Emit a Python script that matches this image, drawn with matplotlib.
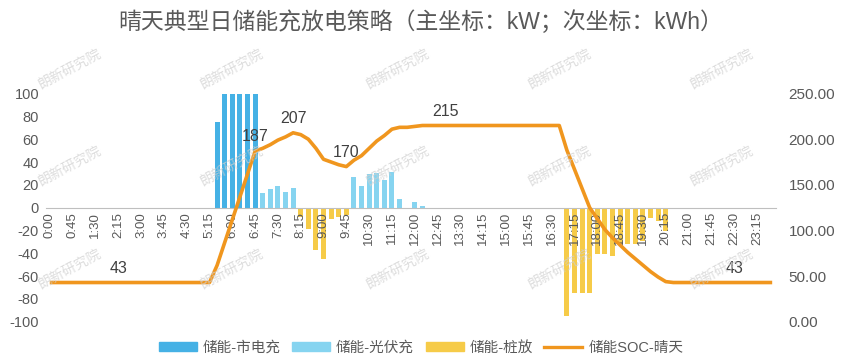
import matplotlib.pyplot as plt
from matplotlib.patches import Patch
from matplotlib.lines import Line2D

plt.rcParams['font.family'] = ['Liberation Sans', 'Noto Sans CJK SC', 'DejaVu Sans']
plt.rcParams['axes.unicode_minus'] = False

# 96 quarter-hour slots
times = [f"{h}:{m:02d}" for h in range(24) for m in (0, 15, 30, 45)]

# kW, 12 slots per row (3 hours)
grid_charge = [
    0, 0, 0, 0, 0, 0, 0, 0, 0, 0, 0, 0,
    0, 0, 0, 0, 0, 0, 0, 0, 0, 0, 75, 100,
    100, 100, 100, 100, 0, 0, 0, 0, 0, 0, 0, 0,
    0, 0, 0, 0, 0, 0, 0, 0, 0, 0, 0, 0,
    0, 0, 0, 0, 0, 0, 0, 0, 0, 0, 0, 0,
    0, 0, 0, 0, 0, 0, 0, 0, 0, 0, 0, 0,
    0, 0, 0, 0, 0, 0, 0, 0, 0, 0, 0, 0,
    0, 0, 0, 0, 0, 0, 0, 0, 0, 0, 0, 0,
]
pv_charge = [
    0, 0, 0, 0, 0, 0, 0, 0, 0, 0, 0, 0,
    0, 0, 0, 0, 0, 0, 0, 0, 0, 0, 0, 0,
    0, 0, 0, 0, 12.6, 16.4, 19, 13.5, 17, 0, 0, 0,
    0, 0, 0, 0, 27, 19, 29.6, 30, 24, 31.6, 7.4, 0,
    4.7, 1.5, 0, 0, 0, 0, 0, 0, 0, 0, 0, 0,
    0, 0, 0, 0, 0, 0, 0, 0, 0, 0, 0, 0,
    0, 0, 0, 0, 0, 0, 0, 0, 0, 0, 0, 0,
    0, 0, 0, 0, 0, 0, 0, 0, 0, 0, 0, 0,
]
pile_discharge = [
    0, 0, 0, 0, 0, 0, 0, 0, 0, 0, 0, 0,
    0, 0, 0, 0, 0, 0, 0, 0, 0, 0, 0, 0,
    0, 0, 0, 0, 0, 0, 0, 0, 0, -8, -19, -37,
    -45, -10, -8, -6.4, 0, 0, 0, 0, 0, 0, 0, 0,
    0, 0, 0, 0, 0, 0, 0, 0, 0, 0, 0, 0,
    0, 0, 0, 0, 0, 0, 0, 0, -95, -75, -75, -75,
    -41, -41, -42, -32, -32, -32, -29, -9, -12, -20.5, 0, 0,
    0, 0, 0, 0, 0, 0, 0, 0, 0, 0, 0, 0,
]
# kWh
soc = [
    43, 43, 43, 43, 43, 43, 43, 43, 43, 43, 43, 43,
    43, 43, 43, 43, 43, 43, 43, 43, 43, 43, 61.75, 86.75,
    111.75, 136.75, 161.75, 187, 190, 194, 199, 202.5, 207, 205, 200, 190,
    178, 175, 172, 170, 177, 182, 190, 198, 204, 211, 213, 213,
    214, 215, 215, 215, 215, 215, 215, 215, 215, 215, 215, 215,
    215, 215, 215, 215, 215, 215, 215, 215, 188, 167, 146, 125,
    113, 101, 92, 84, 76, 69, 62, 55, 49, 44, 43, 43,
    43, 43, 43, 43, 43, 43, 43, 43, 43, 43, 43, 43,
]
label_idx = [9, 27, 32, 39, 52, 90]

c_grid = '#45B1E5'
c_pv = '#86D4F0'
c_dis = '#F6CB48'
c_soc = '#F0961E'
c_txt = '#595959'

fig = plt.figure(figsize=(8.42, 3.64), dpi=100)
ax = fig.add_axes([0.0546, 0.116, 0.867, 0.627])
x = list(range(len(times)))
w = 0.65
ax.bar(x, grid_charge, width=w, color=c_grid)
ax.bar(x, pv_charge, width=w, color=c_pv)
ax.bar(x, pile_discharge, width=w, color=c_dis)
ax.set_xlim(-0.5, len(times) - 0.5)
ax.set_ylim(-100, 100)
ax.set_yticks(range(-100, 101, 20))
for s in ['top', 'right', 'left']:
    ax.spines[s].set_visible(False)
ax.spines['bottom'].set_position(('data', 0))
ax.spines['bottom'].set_color('#BFBFBF')
ax.set_xticks(x[::3])
ax.set_xticklabels(times[::3], rotation=90, fontsize=9.5, color=c_txt)
ax.tick_params(axis='x', length=0, pad=3)
ax.tick_params(axis='y', length=0, labelsize=10.5, labelcolor=c_txt, pad=5)

ax2 = ax.twinx()
ax2.plot(x, soc, color=c_soc, lw=2.6, solid_capstyle='butt')
ax2.set_ylim(0, 250)
ax2.set_yticks(range(0, 251, 50))
ax2.set_yticklabels([f"{v:.2f}" for v in range(0, 251, 50)])
for s in ax2.spines.values():
    s.set_visible(False)
ax2.tick_params(axis='y', length=0, labelsize=11, labelcolor=c_txt, pad=9)
for i in label_idx:
    ax2.annotate(f"{soc[i]:.0f}", (i, soc[i]), xytext=(0, 5), textcoords='offset points',
                 ha='center', va='bottom', fontsize=11.5, color='#404040')

fig.text(0.5, 0.94, '晴天典型日储能充放电策略（主坐标：kW；次坐标：kWh）',
         ha='center', va='center', fontsize=16.5, color=c_txt)

# watermark
for wy in [0.81, 0.545, 0.26]:
    for wx in [0.083, 0.275, 0.472, 0.665, 0.857]:
        fig.text(wx, wy, '朗新研究院', rotation=28, ha='center', va='center',
                 fontsize=10, color='#CFCFCF', alpha=0.7, zorder=10)

handles = [Patch(color=c_grid), Patch(color=c_pv), Patch(color=c_dis),
           Line2D([0], [0], color=c_soc, lw=2.4)]
labels = ['储能-市电充', '储能-光伏充', '储能-桩放', '储能SOC-晴天']
fig.legend(handles, labels, loc='center', bbox_to_anchor=(0.5, 0.045), ncol=4,
           frameon=False, fontsize=10.5, labelcolor=c_txt, handlelength=2.6,
           handleheight=0.6, columnspacing=0.8, handletextpad=0.4)

fig.savefig('out.png', dpi=100)
